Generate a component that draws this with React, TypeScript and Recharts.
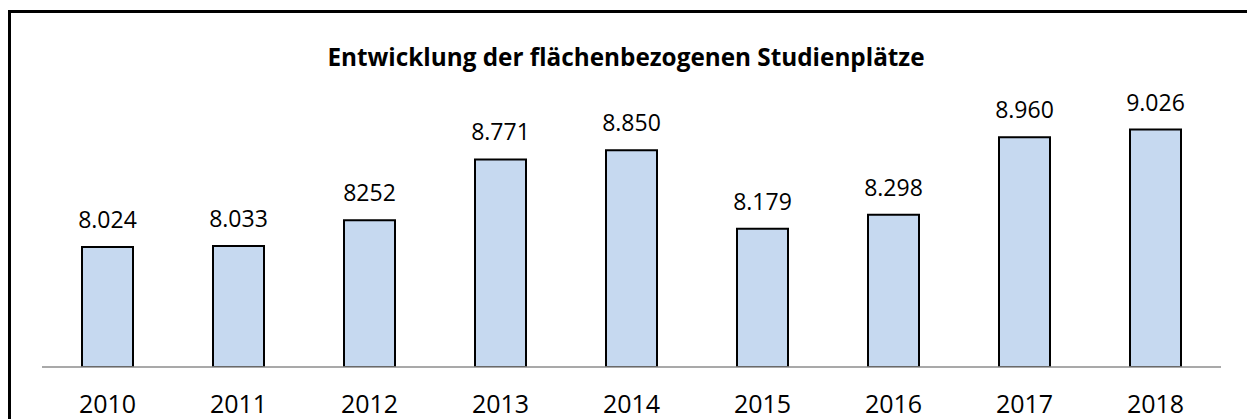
import React from 'react';
import { BarChart, Bar, XAxis, YAxis, LabelList } from 'recharts';

const years = ['2010', '2011', '2012', '2013', '2014', '2015', '2016', '2017', '2018'];
const places = [8024, 8033, 8252, 8771, 8850, 8179, 8298, 8960, 9026];
// labels as printed in the source (2012 has no thousands dot)
const shownLabels = ['8.024', '8.033', '8252', '8.771', '8.850', '8.179', '8.298', '8.960', '9.026'];

const data = years.map((year, i) => ({ year, places: places[i], label: shownLabels[i] }));

const font = "'Open Sans', sans-serif";

const YearTick = ({ x, y, payload }: any) => (
  <text x={x} y={y + 46} textAnchor="middle" fontFamily={font} fontSize={25} fill="#000">
    {payload.value}
  </text>
);

export default function StudienplaetzeChart() {
  return (
    <div style={{ paddingTop: 2 }}>
      <style>{'html,body{overflow:hidden}'}</style>
      <div
        style={{
          position: 'relative',
          width: 1237,
          height: 406,
          borderTop: '3px solid #000',
          borderLeft: '3px solid #000',
          borderRight: '3px solid #000',
          background: '#fff',
        }}
      >
        <BarChart
          width={1237}
          height={406}
          data={data}
          margin={{ top: 61, right: 27, bottom: 0, left: 31 }}
          barCategoryGap={0}
        >
          <YAxis hide domain={[7000, 9500]} allowDataOverflow />
          <XAxis
            dataKey="year"
            height={52}
            tickLine={false}
            tickSize={0}
            tickMargin={0}
            axisLine={{ stroke: '#8c8c8c', strokeWidth: 1.5 }}
            tick={<YearTick />}
            interval={0}
          />
          <Bar
            dataKey="places"
            barSize={51}
            fill="#c6d9f0"
            stroke="#000"
            strokeWidth={2}
            isAnimationActive={false}
          >
            <LabelList
              dataKey="label"
              position="top"
              offset={19}
              fontFamily={font}
              fontSize={23}
              fill="#000"
            />
          </Bar>
        </BarChart>
        <svg
          width={1237}
          height={80}
          style={{ position: 'absolute', left: 0, top: 0, pointerEvents: 'none' }}
        >
          <text
            x={615}
            y={53}
            textAnchor="middle"
            fontFamily={font}
            fontWeight="bold"
            fontSize={24.3}
            fill="#000"
          >
            Entwicklung der flächenbezogenen Studienplätze
          </text>
        </svg>
      </div>
    </div>
  );
}
